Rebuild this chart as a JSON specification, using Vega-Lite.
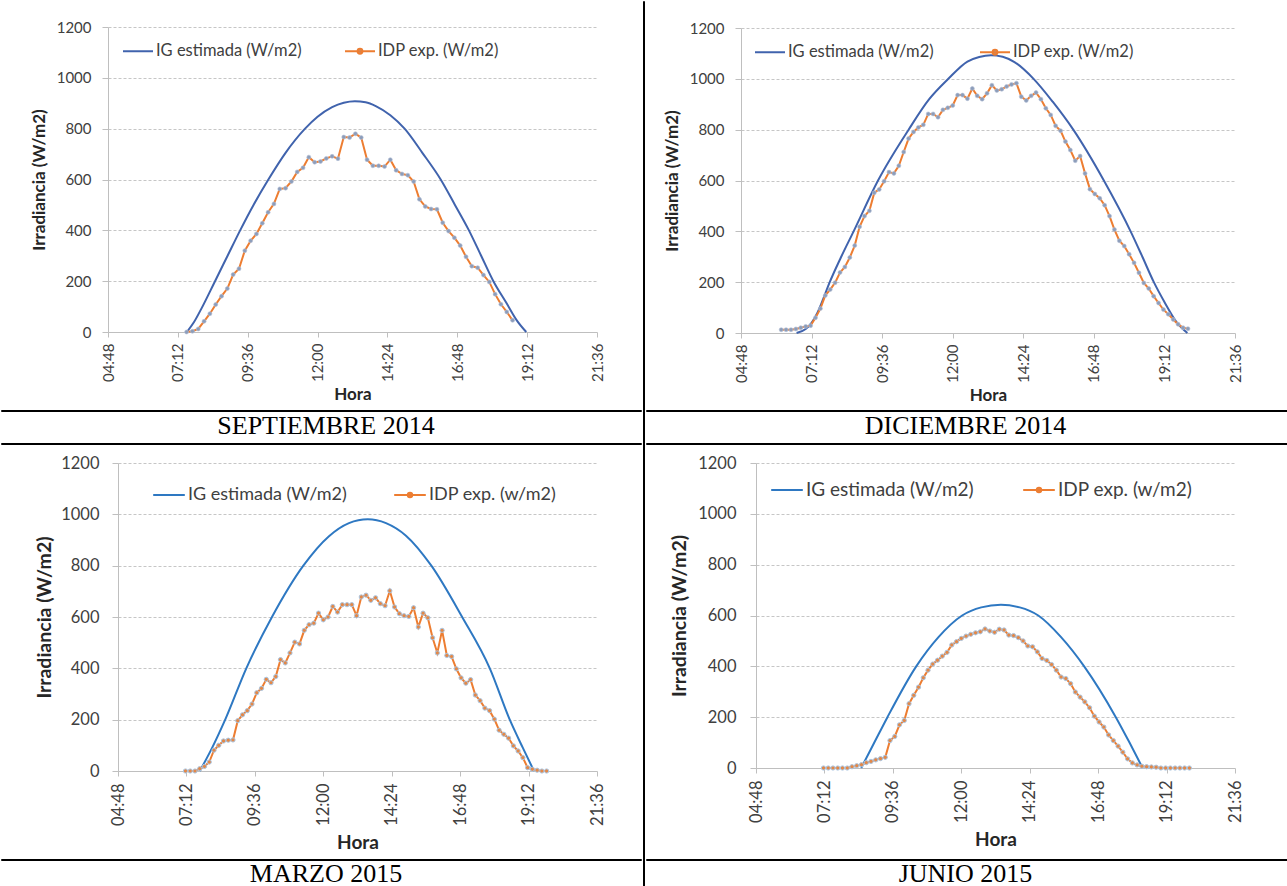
{
"$schema": "https://vega.github.io/schema/vega-lite/v6.json",
"padding": 0,
"background": "white",
"spacing": 0,
"resolve": {"scale": {"color": "independent"}, "legend": {"color": "independent"}},
"config": {
  "view": {"stroke": null},
  "axis": {"labelFont": "Lato", "titleFont": "Lato", "labelColor": "#404040", "titleColor": "#262626", "titleFontWeight": "bold", "domainColor": "#bfbfbf", "tickColor": "#bfbfbf", "gridColor": "#c6c6c6", "gridDash": [3, 2], "labelFlush": false, "labelOverlap": false},
  "legend": {"labelFont": "Lato", "labelColor": "#404040", "labelLimit": 400},
  "title": {"font": "Lato"}
},
"datasets": {
  "sep": [
    {"s":"IG","h":7.51,"v":0},{"s":"IG","h":7.75,"v":38},{"s":"IG","h":8.0,"v":90},{"s":"IG","h":8.46,"v":196},{"s":"IG","h":8.9,"v":298},{"s":"IG","h":9.34,"v":400},{"s":"IG","h":9.8,"v":500},{"s":"IG","h":10.31,"v":600},{"s":"IG","h":10.9,"v":705},{"s":"IG","h":11.57,"v":800},{"s":"IG","h":12.0,"v":847},{"s":"IG","h":12.5,"v":885},{"s":"IG","h":12.9,"v":902},{"s":"IG","h":13.28,"v":908},{"s":"IG","h":13.65,"v":904},{"s":"IG","h":14.0,"v":889},{"s":"IG","h":14.5,"v":853},{"s":"IG","h":14.99,"v":800},{"s":"IG","h":15.6,"v":705},{"s":"IG","h":16.23,"v":600},{"s":"IG","h":16.72,"v":500},{"s":"IG","h":17.2,"v":400},{"s":"IG","h":17.62,"v":300},{"s":"IG","h":18.04,"v":200},{"s":"IG","h":18.5,"v":112},{"s":"IG","h":18.85,"v":45},{"s":"IG","h":19.17,"v":0},
    {"s":"IDP","h":7.5,"v":0},{"s":"IDP","h":7.7,"v":3},{"s":"IDP","h":7.9,"v":12},{"s":"IDP","h":8.1,"v":42},{"s":"IDP","h":8.3,"v":72},{"s":"IDP","h":8.5,"v":108},{"s":"IDP","h":8.7,"v":141},{"s":"IDP","h":8.9,"v":171},{"s":"IDP","h":9.1,"v":226},{"s":"IDP","h":9.3,"v":249},
    {"s":"IDP","h":9.5,"v":320},{"s":"IDP","h":9.7,"v":359},{"s":"IDP","h":9.9,"v":386},{"s":"IDP","h":10.1,"v":428},{"s":"IDP","h":10.3,"v":471},{"s":"IDP","h":10.5,"v":504},{"s":"IDP","h":10.7,"v":563},{"s":"IDP","h":10.9,"v":566},{"s":"IDP","h":11.1,"v":592},{"s":"IDP","h":11.3,"v":630},
    {"s":"IDP","h":11.5,"v":646},{"s":"IDP","h":11.7,"v":688},{"s":"IDP","h":11.9,"v":668},{"s":"IDP","h":12.1,"v":671},{"s":"IDP","h":12.3,"v":683},{"s":"IDP","h":12.5,"v":691},{"s":"IDP","h":12.7,"v":682},{"s":"IDP","h":12.9,"v":767},{"s":"IDP","h":13.1,"v":765},{"s":"IDP","h":13.3,"v":780},
    {"s":"IDP","h":13.5,"v":765},{"s":"IDP","h":13.7,"v":678},{"s":"IDP","h":13.9,"v":654},{"s":"IDP","h":14.1,"v":654},{"s":"IDP","h":14.3,"v":651},{"s":"IDP","h":14.5,"v":678},{"s":"IDP","h":14.7,"v":636},{"s":"IDP","h":14.9,"v":622},{"s":"IDP","h":15.1,"v":617},{"s":"IDP","h":15.3,"v":592},
    {"s":"IDP","h":15.5,"v":522},{"s":"IDP","h":15.7,"v":494},{"s":"IDP","h":15.9,"v":484},{"s":"IDP","h":16.1,"v":483},{"s":"IDP","h":16.3,"v":430},{"s":"IDP","h":16.5,"v":397},{"s":"IDP","h":16.7,"v":371},{"s":"IDP","h":16.9,"v":340},{"s":"IDP","h":17.1,"v":296},{"s":"IDP","h":17.3,"v":259},
    {"s":"IDP","h":17.5,"v":253},{"s":"IDP","h":17.7,"v":224},{"s":"IDP","h":17.9,"v":197},{"s":"IDP","h":18.1,"v":149},{"s":"IDP","h":18.3,"v":109},{"s":"IDP","h":18.5,"v":79},{"s":"IDP","h":18.7,"v":46}
  ],
  "dic": [
    {"s":"IG","h":6.69,"v":0},{"s":"IG","h":7.0,"v":16},{"s":"IG","h":7.2,"v":40},{"s":"IG","h":7.4,"v":80},{"s":"IG","h":7.6,"v":135},{"s":"IG","h":7.8,"v":195},{"s":"IG","h":8.2,"v":298},{"s":"IG","h":8.63,"v":400},{"s":"IG","h":9.46,"v":600},{"s":"IG","h":10.5,"v":800},{"s":"IG","h":11.2,"v":920},{"s":"IG","h":11.85,"v":1000},{"s":"IG","h":12.5,"v":1068},{"s":"IG","h":12.9,"v":1086},{"s":"IG","h":13.3,"v":1093},{"s":"IG","h":13.7,"v":1087},{"s":"IG","h":14.1,"v":1066},{"s":"IG","h":14.75,"v":1000},{"s":"IG","h":15.4,"v":910},{"s":"IG","h":16.1,"v":800},{"s":"IG","h":17.14,"v":600},{"s":"IG","h":18.05,"v":400},{"s":"IG","h":18.45,"v":300},{"s":"IG","h":18.84,"v":200},{"s":"IG","h":19.2,"v":122},{"s":"IG","h":19.6,"v":45},{"s":"IG","h":19.98,"v":0},
    {"s":"IDP","h":6.167,"v":13},{"s":"IDP","h":6.333,"v":13},{"s":"IDP","h":6.5,"v":13},{"s":"IDP","h":6.667,"v":16},{"s":"IDP","h":6.833,"v":21},{"s":"IDP","h":7.0,"v":26},{"s":"IDP","h":7.167,"v":29},{"s":"IDP","h":7.333,"v":60},{"s":"IDP","h":7.5,"v":96},{"s":"IDP","h":7.667,"v":148},
    {"s":"IDP","h":7.833,"v":171},{"s":"IDP","h":8.0,"v":198},{"s":"IDP","h":8.167,"v":238},{"s":"IDP","h":8.333,"v":260},{"s":"IDP","h":8.5,"v":297},{"s":"IDP","h":8.667,"v":344},{"s":"IDP","h":8.833,"v":418},{"s":"IDP","h":9.0,"v":460},{"s":"IDP","h":9.167,"v":481},{"s":"IDP","h":9.333,"v":552},
    {"s":"IDP","h":9.5,"v":565},{"s":"IDP","h":9.667,"v":597},{"s":"IDP","h":9.833,"v":633},{"s":"IDP","h":10.0,"v":628},{"s":"IDP","h":10.167,"v":658},{"s":"IDP","h":10.333,"v":712},{"s":"IDP","h":10.5,"v":765},{"s":"IDP","h":10.667,"v":791},{"s":"IDP","h":10.833,"v":809},{"s":"IDP","h":11.0,"v":819},
    {"s":"IDP","h":11.167,"v":862},{"s":"IDP","h":11.333,"v":862},{"s":"IDP","h":11.5,"v":849},{"s":"IDP","h":11.667,"v":878},{"s":"IDP","h":11.833,"v":886},{"s":"IDP","h":12.0,"v":895},{"s":"IDP","h":12.167,"v":936},{"s":"IDP","h":12.333,"v":936},{"s":"IDP","h":12.5,"v":922},{"s":"IDP","h":12.667,"v":962},
    {"s":"IDP","h":12.833,"v":933},{"s":"IDP","h":13.0,"v":920},{"s":"IDP","h":13.167,"v":943},{"s":"IDP","h":13.333,"v":975},{"s":"IDP","h":13.5,"v":954},{"s":"IDP","h":13.667,"v":959},{"s":"IDP","h":13.833,"v":970},{"s":"IDP","h":14.0,"v":978},{"s":"IDP","h":14.167,"v":983},{"s":"IDP","h":14.333,"v":930},
    {"s":"IDP","h":14.5,"v":915},{"s":"IDP","h":14.667,"v":933},{"s":"IDP","h":14.833,"v":946},{"s":"IDP","h":15.0,"v":920},{"s":"IDP","h":15.167,"v":884},{"s":"IDP","h":15.333,"v":858},{"s":"IDP","h":15.5,"v":815},{"s":"IDP","h":15.667,"v":796},{"s":"IDP","h":15.833,"v":753},{"s":"IDP","h":16.0,"v":720},
    {"s":"IDP","h":16.167,"v":678},{"s":"IDP","h":16.333,"v":696},{"s":"IDP","h":16.5,"v":628},{"s":"IDP","h":16.667,"v":566},{"s":"IDP","h":16.833,"v":547},{"s":"IDP","h":17.0,"v":530},{"s":"IDP","h":17.167,"v":503},{"s":"IDP","h":17.333,"v":460},{"s":"IDP","h":17.5,"v":407},{"s":"IDP","h":17.667,"v":363},
    {"s":"IDP","h":17.833,"v":342},{"s":"IDP","h":18.0,"v":310},{"s":"IDP","h":18.167,"v":276},{"s":"IDP","h":18.333,"v":237},{"s":"IDP","h":18.5,"v":197},{"s":"IDP","h":18.667,"v":175},{"s":"IDP","h":18.833,"v":145},{"s":"IDP","h":19.0,"v":118},{"s":"IDP","h":19.167,"v":92},{"s":"IDP","h":19.333,"v":74},
    {"s":"IDP","h":19.5,"v":53},{"s":"IDP","h":19.667,"v":34},{"s":"IDP","h":19.833,"v":21},{"s":"IDP","h":20.0,"v":17}
  ],
  "mar": [
    {"s":"IG","h":7.67,"v":0},{"s":"IG","h":8.1,"v":90},{"s":"IG","h":8.56,"v":200},{"s":"IG","h":9.3,"v":400},{"s":"IG","h":10.2,"v":600},{"s":"IG","h":11.3,"v":800},{"s":"IG","h":12.2,"v":915},{"s":"IG","h":12.9,"v":966},{"s":"IG","h":13.56,"v":981},{"s":"IG","h":14.2,"v":966},{"s":"IG","h":14.9,"v":917},{"s":"IG","h":15.79,"v":800},{"s":"IG","h":16.87,"v":600},{"s":"IG","h":17.84,"v":400},{"s":"IG","h":18.54,"v":200},{"s":"IG","h":19.0,"v":90},{"s":"IG","h":19.39,"v":0},
    {"s":"IDP","h":7.167,"v":0},{"s":"IDP","h":7.333,"v":0},{"s":"IDP","h":7.5,"v":0},{"s":"IDP","h":7.667,"v":9},{"s":"IDP","h":7.833,"v":18},{"s":"IDP","h":8.0,"v":35},{"s":"IDP","h":8.167,"v":81},{"s":"IDP","h":8.333,"v":100},{"s":"IDP","h":8.5,"v":117},{"s":"IDP","h":8.667,"v":120},
    {"s":"IDP","h":8.833,"v":121},{"s":"IDP","h":9.0,"v":196},{"s":"IDP","h":9.167,"v":219},{"s":"IDP","h":9.333,"v":235},{"s":"IDP","h":9.5,"v":261},{"s":"IDP","h":9.667,"v":305},{"s":"IDP","h":9.833,"v":322},{"s":"IDP","h":10.0,"v":357},{"s":"IDP","h":10.167,"v":344},{"s":"IDP","h":10.333,"v":368},
    {"s":"IDP","h":10.5,"v":434},{"s":"IDP","h":10.667,"v":421},{"s":"IDP","h":10.833,"v":460},{"s":"IDP","h":11.0,"v":502},{"s":"IDP","h":11.167,"v":495},{"s":"IDP","h":11.333,"v":548},{"s":"IDP","h":11.5,"v":570},{"s":"IDP","h":11.667,"v":576},{"s":"IDP","h":11.833,"v":615},{"s":"IDP","h":12.0,"v":589},
    {"s":"IDP","h":12.167,"v":600},{"s":"IDP","h":12.333,"v":641},{"s":"IDP","h":12.5,"v":619},{"s":"IDP","h":12.667,"v":648},{"s":"IDP","h":12.833,"v":648},{"s":"IDP","h":13.0,"v":648},{"s":"IDP","h":13.167,"v":605},{"s":"IDP","h":13.333,"v":678},{"s":"IDP","h":13.5,"v":685},{"s":"IDP","h":13.667,"v":665},
    {"s":"IDP","h":13.833,"v":675},{"s":"IDP","h":14.0,"v":652},{"s":"IDP","h":14.167,"v":644},{"s":"IDP","h":14.333,"v":702},{"s":"IDP","h":14.5,"v":639},{"s":"IDP","h":14.667,"v":613},{"s":"IDP","h":14.833,"v":605},{"s":"IDP","h":15.0,"v":602},{"s":"IDP","h":15.167,"v":636},{"s":"IDP","h":15.333,"v":561},
    {"s":"IDP","h":15.5,"v":615},{"s":"IDP","h":15.667,"v":597},{"s":"IDP","h":15.833,"v":519},{"s":"IDP","h":16.0,"v":460},{"s":"IDP","h":16.167,"v":548},{"s":"IDP","h":16.333,"v":450},{"s":"IDP","h":16.5,"v":446},{"s":"IDP","h":16.667,"v":398},{"s":"IDP","h":16.833,"v":363},{"s":"IDP","h":17.0,"v":342},
    {"s":"IDP","h":17.167,"v":356},{"s":"IDP","h":17.333,"v":296},{"s":"IDP","h":17.5,"v":274},{"s":"IDP","h":17.667,"v":245},{"s":"IDP","h":17.833,"v":235},{"s":"IDP","h":18.0,"v":202},{"s":"IDP","h":18.167,"v":159},{"s":"IDP","h":18.333,"v":143},{"s":"IDP","h":18.5,"v":128},{"s":"IDP","h":18.667,"v":98},
    {"s":"IDP","h":18.833,"v":78},{"s":"IDP","h":19.0,"v":52},{"s":"IDP","h":19.167,"v":13},{"s":"IDP","h":19.333,"v":7},{"s":"IDP","h":19.5,"v":3},{"s":"IDP","h":19.667,"v":0},{"s":"IDP","h":19.833,"v":0}
  ],
  "jun": [
    {"s":"IG","h":8.49,"v":0},{"s":"IG","h":8.95,"v":100},{"s":"IG","h":9.41,"v":200},{"s":"IG","h":10.42,"v":400},{"s":"IG","h":11.2,"v":515},{"s":"IG","h":12.03,"v":600},{"s":"IG","h":12.7,"v":632},{"s":"IG","h":13.39,"v":642},{"s":"IG","h":14.05,"v":632},{"s":"IG","h":14.7,"v":600},{"s":"IG","h":15.5,"v":515},{"s":"IG","h":16.31,"v":400},{"s":"IG","h":17.42,"v":200},{"s":"IG","h":17.9,"v":100},{"s":"IG","h":18.36,"v":0},
    {"s":"IDP","h":7.167,"v":0},{"s":"IDP","h":7.333,"v":0},{"s":"IDP","h":7.5,"v":0},{"s":"IDP","h":7.667,"v":0},{"s":"IDP","h":7.833,"v":0},{"s":"IDP","h":8.0,"v":0},{"s":"IDP","h":8.167,"v":5},{"s":"IDP","h":8.333,"v":9},{"s":"IDP","h":8.5,"v":13},{"s":"IDP","h":8.667,"v":21},
    {"s":"IDP","h":8.833,"v":26},{"s":"IDP","h":9.0,"v":32},{"s":"IDP","h":9.167,"v":37},{"s":"IDP","h":9.333,"v":42},{"s":"IDP","h":9.5,"v":108},{"s":"IDP","h":9.667,"v":124},{"s":"IDP","h":9.833,"v":170},{"s":"IDP","h":10.0,"v":187},{"s":"IDP","h":10.167,"v":253},{"s":"IDP","h":10.333,"v":286},
    {"s":"IDP","h":10.5,"v":318},{"s":"IDP","h":10.667,"v":355},{"s":"IDP","h":10.833,"v":385},{"s":"IDP","h":11.0,"v":409},{"s":"IDP","h":11.167,"v":424},{"s":"IDP","h":11.333,"v":440},{"s":"IDP","h":11.5,"v":455},{"s":"IDP","h":11.667,"v":484},{"s":"IDP","h":11.833,"v":497},{"s":"IDP","h":12.0,"v":510},
    {"s":"IDP","h":12.167,"v":519},{"s":"IDP","h":12.333,"v":526},{"s":"IDP","h":12.5,"v":532},{"s":"IDP","h":12.667,"v":536},{"s":"IDP","h":12.833,"v":547},{"s":"IDP","h":13.0,"v":539},{"s":"IDP","h":13.167,"v":534},{"s":"IDP","h":13.333,"v":546},{"s":"IDP","h":13.5,"v":543},{"s":"IDP","h":13.667,"v":523},
    {"s":"IDP","h":13.833,"v":521},{"s":"IDP","h":14.0,"v":513},{"s":"IDP","h":14.167,"v":500},{"s":"IDP","h":14.333,"v":480},{"s":"IDP","h":14.5,"v":477},{"s":"IDP","h":14.667,"v":457},{"s":"IDP","h":14.833,"v":431},{"s":"IDP","h":15.0,"v":423},{"s":"IDP","h":15.167,"v":407},{"s":"IDP","h":15.333,"v":385},
    {"s":"IDP","h":15.5,"v":358},{"s":"IDP","h":15.667,"v":352},{"s":"IDP","h":15.833,"v":332},{"s":"IDP","h":16.0,"v":299},{"s":"IDP","h":16.167,"v":279},{"s":"IDP","h":16.333,"v":260},{"s":"IDP","h":16.5,"v":237},{"s":"IDP","h":16.667,"v":204},{"s":"IDP","h":16.833,"v":181},{"s":"IDP","h":17.0,"v":161},
    {"s":"IDP","h":17.167,"v":130},{"s":"IDP","h":17.333,"v":108},{"s":"IDP","h":17.5,"v":86},{"s":"IDP","h":17.667,"v":62},{"s":"IDP","h":17.833,"v":36},{"s":"IDP","h":18.0,"v":20},{"s":"IDP","h":18.167,"v":12},{"s":"IDP","h":18.333,"v":7},{"s":"IDP","h":18.5,"v":5},{"s":"IDP","h":18.667,"v":4},
    {"s":"IDP","h":18.833,"v":3},{"s":"IDP","h":19.0,"v":0},{"s":"IDP","h":19.167,"v":0},{"s":"IDP","h":19.333,"v":0},{"s":"IDP","h":19.5,"v":0},{"s":"IDP","h":19.667,"v":0},{"s":"IDP","h":19.833,"v":0},{"s":"IDP","h":20.0,"v":0}
  ]
},
"hconcat": [
  {"spacing": 0, "resolve": {"scale": {"color": "independent"}, "legend": {"color": "independent"}}, "vconcat": [
    {"width": 1, "height": 18.5, "data": {"values": []}, "mark": "text"},
    {"spacing": 0, "resolve": {"scale": {"color": "independent"}, "legend": {"color": "independent"}}, "hconcat": [
      {"width": 29, "height": 382, "data": {"values": []}, "mark": "text"},
      {"width": 489, "height": 305,
       "data": {"name": "sep"},
       "encoding": {
         "x": {"field": "h", "type": "quantitative", "scale": {"domain": [4.8, 21.6], "nice": false, "zero": false},
               "axis": {"values": [4.8, 7.2, 9.6, 12, 14.4, 16.8, 19.2, 21.6], "labelExpr": "utcFormat(datum.value * 3600000, '%H:%M')", "labelAngle": -90, "title": "Hora", "grid": false, "labelFontSize": 15, "titleFontSize": 17, "tickSize": 5, "labelPadding": 6, "titlePadding": 5}},
         "y": {"field": "v", "type": "quantitative", "scale": {"domain": [0, 1200], "nice": false},
               "axis": {"values": [0, 200, 400, 600, 800, 1000, 1200], "format": "d", "title": "Irradiancia (W/m2)", "labelFontSize": 15, "titleFontSize": 17, "tickSize": 6, "labelPadding": 11, "titlePadding": 8}}
       },
       "layer": [
         {"transform": [{"filter": "datum.s == 'IG'"}], "mark": {"type": "line", "interpolate": "monotone", "strokeWidth": 2},
          "encoding": {"color": {"field": "s", "type": "nominal", "scale": {"domain": ["IG", "IDP"], "range": ["#4063AD", "#ED7D31"]},
            "legend": {"title": null, "orient": "none", "legendX": 14, "legendY": 8, "direction": "horizontal", "symbolType": "stroke", "symbolSize": 900, "symbolStrokeWidth": 2, "labelFontSize": 16.5, "labelOffset": 2, "columnPadding": 39, "labelExpr": "datum.label == 'IG' ? 'IG estimada (W/m2)' : 'IDP exp. (W/m2)'",
              "encode": {"symbols": {"update": {"shape": {"signal": "datum.value === 'IDP' ? 'M-1,0H1M-0.16,0A0.16,0.16 0 1,0 0.16,0A0.16,0.16 0 1,0 -0.16,0Z' : 'stroke'"}, "fill": {"signal": "datum.value === 'IDP' ? '#8C9DBA' : 'transparent'"}}}}}}}},
         {"transform": [{"filter": "datum.s == 'IDP'"}], "mark": {"type": "line", "strokeWidth": 2}, "encoding": {"color": {"field": "s", "type": "nominal"}}},
         {"transform": [{"filter": "datum.s == 'IDP'"}], "mark": {"type": "point", "filled": true, "size": 16, "fill": "#8C9DBA", "opacity": 1, "stroke": "#B4C0D6", "strokeWidth": 0.6}}
       ]}
    ]},
    {"width": 640, "height": 1, "view": {"stroke": "#000000", "strokeWidth": 1}, "data": {"values": []}, "mark": "text"},
    {"width": 640, "height": 30, "data": {"values": [{"t": "SEPTIEMBRE 2014"}]}, "mark": {"type": "text", "font": "Liberation Serif", "fontSize": 26, "color": "#000000", "dx": 5, "dy": -1}, "encoding": {"text": {"field": "t"}}},
    {"width": 640, "height": 1, "view": {"stroke": "#000000", "strokeWidth": 1}, "data": {"values": []}, "mark": "text"},
    {"width": 1, "height": 10, "data": {"values": []}, "mark": "text"},
    {"spacing": 0, "resolve": {"scale": {"color": "independent"}, "legend": {"color": "independent"}}, "hconcat": [
      {"width": 33, "height": 394.5, "data": {"values": []}, "mark": "text"},
      {"width": 479, "height": 308,
       "data": {"name": "mar"},
       "encoding": {
         "x": {"field": "h", "type": "quantitative", "scale": {"domain": [4.8, 21.6], "nice": false, "zero": false},
               "axis": {"values": [4.8, 7.2, 9.6, 12, 14.4, 16.8, 19.2, 21.6], "labelExpr": "utcFormat(datum.value * 3600000, '%H:%M')", "labelAngle": -90, "title": "Hora", "grid": false, "labelFontSize": 16.5, "titleFontSize": 19, "tickSize": 5, "labelPadding": 7, "titlePadding": 8}},
         "y": {"field": "v", "type": "quantitative", "scale": {"domain": [0, 1200], "nice": false},
               "axis": {"values": [0, 200, 400, 600, 800, 1000, 1200], "format": "d", "title": "Irradiancia (W/m2)", "labelFontSize": 16.5, "titleFontSize": 19.5, "tickSize": 6, "labelPadding": 13, "titlePadding": 6}}
       },
       "layer": [
         {"transform": [{"filter": "datum.s == 'IG'"}], "mark": {"type": "line", "interpolate": "monotone", "strokeWidth": 2},
          "encoding": {"color": {"field": "s", "type": "nominal", "scale": {"domain": ["IG", "IDP"], "range": ["#2E78C2", "#ED7D31"]},
            "legend": {"title": null, "orient": "none", "legendX": 34, "legendY": 15, "direction": "horizontal", "symbolType": "stroke", "symbolSize": 1000, "symbolStrokeWidth": 2, "labelFontSize": 18, "labelOffset": 2, "columnPadding": 43, "labelExpr": "datum.label == 'IG' ? 'IG estimada (W/m2)' : 'IDP exp. (w/m2)'",
              "encode": {"symbols": {"update": {"shape": {"signal": "datum.value === 'IDP' ? 'M-1,0H1M-0.14,0A0.14,0.14 0 1,0 0.14,0A0.14,0.14 0 1,0 -0.14,0Z' : 'stroke'"}, "fill": {"signal": "datum.value === 'IDP' ? '#9FA9B8' : 'transparent'"}}}}}}}},
         {"transform": [{"filter": "datum.s == 'IDP'"}], "mark": {"type": "line", "strokeWidth": 2}, "encoding": {"color": {"field": "s", "type": "nominal"}}},
         {"transform": [{"filter": "datum.s == 'IDP'"}], "mark": {"type": "point", "filled": true, "size": 18, "fill": "#E38848", "opacity": 1, "stroke": "#A9C5E2", "strokeWidth": 1}}
       ]}
    ]},
    {"width": 640, "height": 1, "view": {"stroke": "#000000", "strokeWidth": 1}, "data": {"values": []}, "mark": "text"},
    {"width": 640, "height": 28, "data": {"values": [{"t": "MARZO 2015"}]}, "mark": {"type": "text", "font": "Liberation Serif", "fontSize": 26, "color": "#000000", "dx": 5, "dy": -1}, "encoding": {"text": {"field": "t"}}}
  ]},
  {"width": 1, "height": 886, "view": {"stroke": "#000000", "strokeWidth": 1}, "data": {"values": []}, "mark": "text"},
  {"spacing": 0, "resolve": {"scale": {"color": "independent"}, "legend": {"color": "independent"}}, "vconcat": [
    {"width": 1, "height": 19.5, "data": {"values": []}, "mark": "text"},
    {"spacing": 0, "resolve": {"scale": {"color": "independent"}, "legend": {"color": "independent"}}, "hconcat": [
      {"width": 16.5, "height": 381, "data": {"values": []}, "mark": "text"},
      {"width": 494, "height": 305,
       "data": {"name": "dic"},
       "encoding": {
         "x": {"field": "h", "type": "quantitative", "scale": {"domain": [4.8, 21.6], "nice": false, "zero": false},
               "axis": {"values": [4.8, 7.2, 9.6, 12, 14.4, 16.8, 19.2, 21.6], "labelExpr": "utcFormat(datum.value * 3600000, '%H:%M')", "labelAngle": -90, "title": "Hora", "grid": false, "labelFontSize": 15, "titleFontSize": 17, "tickSize": 5, "labelPadding": 6, "titlePadding": 5}},
         "y": {"field": "v", "type": "quantitative", "scale": {"domain": [0, 1200], "nice": false},
               "axis": {"values": [0, 200, 400, 600, 800, 1000, 1200], "format": "d", "title": "Irradiancia (W/m2)", "labelFontSize": 15, "titleFontSize": 17, "tickSize": 6, "labelPadding": 11, "titlePadding": 8}}
       },
       "layer": [
         {"transform": [{"filter": "datum.s == 'IG'"}], "mark": {"type": "line", "interpolate": "monotone", "strokeWidth": 2},
          "encoding": {"color": {"field": "s", "type": "nominal", "scale": {"domain": ["IG", "IDP"], "range": ["#4063AD", "#ED7D31"]},
            "legend": {"title": null, "orient": "none", "legendX": 13, "legendY": 8, "direction": "horizontal", "symbolType": "stroke", "symbolSize": 900, "symbolStrokeWidth": 2, "labelFontSize": 16.5, "labelOffset": 2, "columnPadding": 42, "labelExpr": "datum.label == 'IG' ? 'IG estimada (W/m2)' : 'IDP exp. (W/m2)'",
              "encode": {"symbols": {"update": {"shape": {"signal": "datum.value === 'IDP' ? 'M-1,0H1M-0.16,0A0.16,0.16 0 1,0 0.16,0A0.16,0.16 0 1,0 -0.16,0Z' : 'stroke'"}, "fill": {"signal": "datum.value === 'IDP' ? '#8C9DBA' : 'transparent'"}}}}}}}},
         {"transform": [{"filter": "datum.s == 'IDP'"}], "mark": {"type": "line", "strokeWidth": 2}, "encoding": {"color": {"field": "s", "type": "nominal"}}},
         {"transform": [{"filter": "datum.s == 'IDP'"}], "mark": {"type": "point", "filled": true, "size": 16, "fill": "#8C9DBA", "opacity": 1, "stroke": "#B4C0D6", "strokeWidth": 0.6}}
       ]}
    ]},
    {"width": 646, "height": 1, "view": {"stroke": "#000000", "strokeWidth": 1}, "data": {"values": []}, "mark": "text"},
    {"width": 646, "height": 30, "data": {"values": [{"t": "DICIEMBRE 2014"}]}, "mark": {"type": "text", "font": "Liberation Serif", "fontSize": 26, "color": "#000000", "dx": -3.5, "dy": -1}, "encoding": {"text": {"field": "t"}}},
    {"width": 646, "height": 1, "view": {"stroke": "#000000", "strokeWidth": 1}, "data": {"values": []}, "mark": "text"},
    {"width": 1, "height": 10, "data": {"values": []}, "mark": "text"},
    {"spacing": 0, "resolve": {"scale": {"color": "independent"}, "legend": {"color": "independent"}}, "hconcat": [
      {"width": 23, "height": 394.5, "data": {"values": []}, "mark": "text"},
      {"width": 479, "height": 305,
       "data": {"name": "jun"},
       "encoding": {
         "x": {"field": "h", "type": "quantitative", "scale": {"domain": [4.8, 21.6], "nice": false, "zero": false},
               "axis": {"values": [4.8, 7.2, 9.6, 12, 14.4, 16.8, 19.2, 21.6], "labelExpr": "utcFormat(datum.value * 3600000, '%H:%M')", "labelAngle": -90, "title": "Hora", "grid": false, "labelFontSize": 16.5, "titleFontSize": 19, "tickSize": 5, "labelPadding": 7, "titlePadding": 8}},
         "y": {"field": "v", "type": "quantitative", "scale": {"domain": [0, 1200], "nice": false},
               "axis": {"values": [0, 200, 400, 600, 800, 1000, 1200], "format": "d", "title": "Irradiancia (W/m2)", "labelFontSize": 16.5, "titleFontSize": 19.5, "tickSize": 6, "labelPadding": 14, "titlePadding": 8}}
       },
       "layer": [
         {"transform": [{"filter": "datum.s == 'IG'"}], "mark": {"type": "line", "interpolate": "monotone", "strokeWidth": 2},
          "encoding": {"color": {"field": "s", "type": "nominal", "scale": {"domain": ["IG", "IDP"], "range": ["#2E78C2", "#ED7D31"]},
            "legend": {"title": null, "orient": "none", "legendX": 14, "legendY": 10, "direction": "horizontal", "symbolType": "stroke", "symbolSize": 1000, "symbolStrokeWidth": 2, "labelFontSize": 19, "labelOffset": 2, "columnPadding": 45, "labelExpr": "datum.label == 'IG' ? 'IG estimada (W/m2)' : 'IDP exp. (w/m2)'",
              "encode": {"symbols": {"update": {"shape": {"signal": "datum.value === 'IDP' ? 'M-1,0H1M-0.14,0A0.14,0.14 0 1,0 0.14,0A0.14,0.14 0 1,0 -0.14,0Z' : 'stroke'"}, "fill": {"signal": "datum.value === 'IDP' ? '#9FA9B8' : 'transparent'"}}}}}}}},
         {"transform": [{"filter": "datum.s == 'IDP'"}], "mark": {"type": "line", "strokeWidth": 2}, "encoding": {"color": {"field": "s", "type": "nominal"}}},
         {"transform": [{"filter": "datum.s == 'IDP'"}], "mark": {"type": "point", "filled": true, "size": 18, "fill": "#E38848", "opacity": 1, "stroke": "#A9C5E2", "strokeWidth": 1}}
       ]}
    ]},
    {"width": 646, "height": 1, "view": {"stroke": "#000000", "strokeWidth": 1}, "data": {"values": []}, "mark": "text"},
    {"width": 646, "height": 28, "data": {"values": [{"t": "JUNIO 2015"}]}, "mark": {"type": "text", "font": "Liberation Serif", "fontSize": 26, "color": "#000000", "dx": -3.5, "dy": -1}, "encoding": {"text": {"field": "t"}}}
  ]}
]
}
